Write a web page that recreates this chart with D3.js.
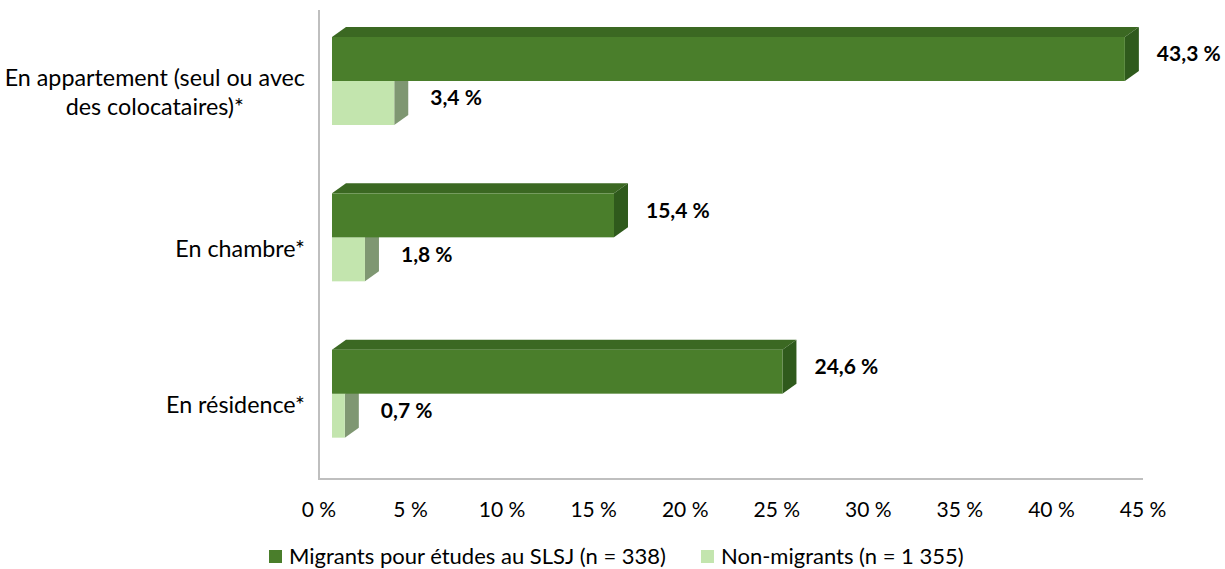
<!DOCTYPE html>
<html>
<head>
<meta charset="utf-8">
<script src="https://cdn.jsdelivr.net/npm/d3@7"></script>
<style>
  html, body { margin: 0; padding: 0; background: #ffffff; }
  svg { display: block; font-family: Lato, "Open Sans", sans-serif; }
</style>
</head>
<body>
<svg id="chart" width="1225" height="569"></svg>
<script>
// ---- data ----
const categories = ["En appartement (seul ou avec des colocataires)*", "En chambre*", "En résidence*"];
const categoryLines = [["En appartement (seul ou avec", "des colocataires)*"], ["En chambre*"], ["En résidence*"]];
const migrants = [43.3, 15.4, 24.6];
const nonMigrants = [3.4, 1.8, 0.7];
const tickValues = [0, 5, 10, 15, 20, 25, 30, 35, 40, 45];
const seriesNames = ["Migrants pour études au SLSJ (n = 338)", "Non-migrants (n = 1 355)"];

// ---- styles ----
const fontSize = 21, catFontSize = 23.3, legFontSize = 22;
const axisColor = "#bfbfbf";
const greenFront = "#4a7e2b", greenTop = "#3b6822", greenSide = "#2f5a1c";
const lightFront = "#c3e5ae", lightTop = "#a9c999", lightSide = "#7f9772";
const offX = 13;
const depthX = 14, depthY = 10;
const barH = 44;

const locale = d3.formatLocale({decimal: ",", thousands: " ", grouping: [3], currency: ["", ""]});
const fmt1 = locale.format(".1f");
const fmt0 = locale.format("d");

const svg = d3.select("#chart");

const x = d3.scaleLinear().domain([0, 45]).range([319, 1143]);
const y = d3.scaleBand().domain(categories).range([10, 479]);

svg.append("line").attr("x1", x(0)).attr("x2", x(0)).attr("y1", 10).attr("y2", 479)
  .attr("stroke", axisColor).attr("stroke-width", 2);
svg.append("line").attr("x1", x(0) - 1).attr("x2", x(45)).attr("y1", 479).attr("y2", 479)
  .attr("stroke", axisColor).attr("stroke-width", 2);

svg.append("g").selectAll("text").data(tickValues).join("text")
  .attr("x", d => x(d)).attr("y", 517)
  .attr("text-anchor", "middle").attr("font-size", fontSize).attr("fill", "#000")
  .text(d => fmt0(d) + " %");

function drawBar(g, v, top, front, topC, side) {
  const x0 = x(0) + offX, x1 = x(v) + offX, yt = top, yb = top + barH;
  g.append("polygon")
    .attr("points", [[x0, yt], [x0 + depthX, yt - depthY], [x1 + depthX, yt - depthY], [x1, yt]].map(p => p.join(",")).join(" "))
    .attr("fill", topC);
  g.append("polygon")
    .attr("points", [[x1, yt], [x1 + depthX, yt - depthY], [x1 + depthX, yb - depthY], [x1, yb]].map(p => p.join(",")).join(" "))
    .attr("fill", side);
  g.append("rect").attr("x", x0).attr("y", yt).attr("width", x1 - x0).attr("height", barH).attr("fill", front);
}

const bars = svg.append("g");
categories.forEach((c, i) => {
  const bandTop = y(c);
  const gTop = bandTop + 27;
  const lTop = gTop + barH;
  drawBar(bars, nonMigrants[i], lTop, lightFront, lightTop, lightSide);
  drawBar(bars, migrants[i], gTop, greenFront, greenTop, greenSide);

  bars.append("text")
    .attr("x", x(migrants[i]) + offX + depthX + 18)
    .attr("y", gTop + barH / 2 - 5).attr("dy", "0.35em")
    .attr("font-size", fontSize).attr("font-weight", "bold").attr("fill", "#000")
    .text(fmt1(migrants[i]) + " %");
  bars.append("text")
    .attr("x", x(nonMigrants[i]) + offX + depthX + 22)
    .attr("y", lTop + barH / 2 - 5).attr("dy", "0.35em")
    .attr("font-size", fontSize).attr("font-weight", "bold").attr("fill", "#000")
    .text(fmt1(nonMigrants[i]) + " %");
});

const lab = svg.append("g");
categories.forEach((c, i) => {
  const lines = categoryLines[i];
  const lineH = 29;
  const cy = y(c) + y.bandwidth() / 2 + 4;
  const texts = lines.map((ln, k) => lab.append("text")
    .attr("font-size", catFontSize).attr("fill", "#000")
    .attr("y", cy + (k - (lines.length - 1) / 2) * lineH).attr("dy", "0.35em")
    .text(ln));
  const maxW = d3.max(texts, t => t.node().getComputedTextLength());
  texts.forEach(t => t.attr("x", 305 - maxW / 2).attr("text-anchor", "middle"));
});

const leg = svg.append("g");
let lx = 269;
const legColors = [greenFront, lightFront];
seriesNames.forEach((s, i) => {
  leg.append("rect").attr("x", lx).attr("y", 550).attr("width", 13).attr("height", 13).attr("fill", legColors[i]);
  const t = leg.append("text").attr("x", lx + 20).attr("y", 556.5).attr("dy", "0.35em")
    .attr("font-size", legFontSize).attr("fill", "#000").text(s);
  lx = lx + 20 + t.node().getComputedTextLength() + 35;
});
</script>
</body>
</html>
